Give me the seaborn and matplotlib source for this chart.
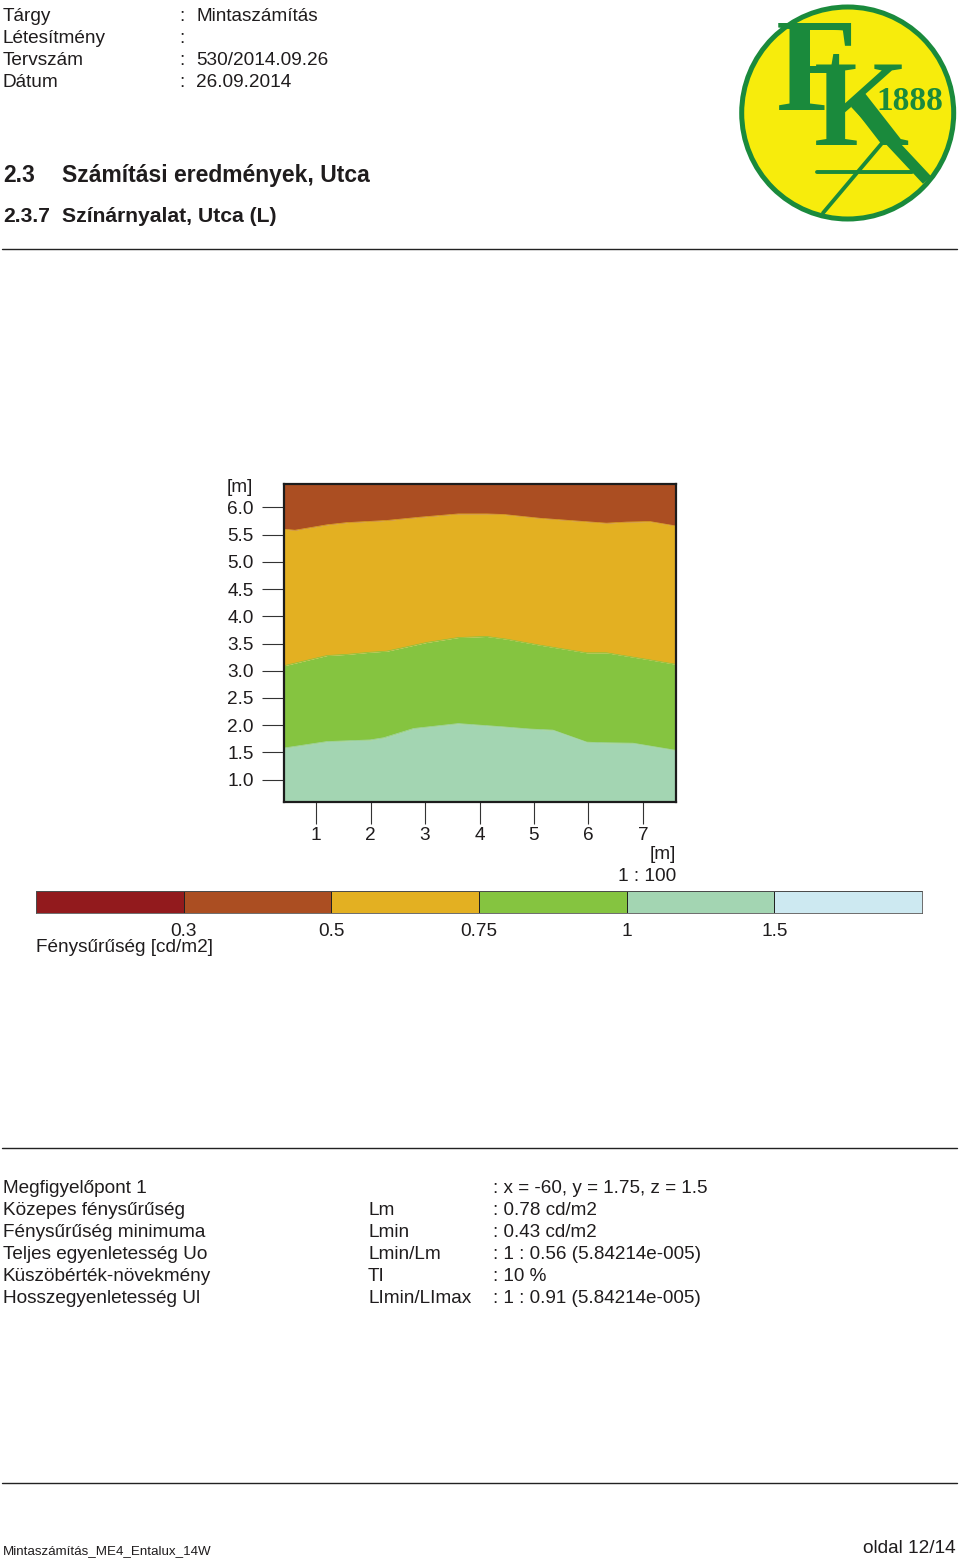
import numpy as np
import matplotlib
matplotlib.use("Agg")
import matplotlib.pyplot as plt
from matplotlib.colors import ListedColormap
from matplotlib.patches import Circle
import seaborn as sns

W, H = 960, 1559
sns.set_theme(style="white")
plt.rcParams["font.family"] = ["Liberation Sans", "DejaVu Sans"]

# ---- data ----
x_light = [0.40, 1.20, 1.99, 2.24, 2.79, 3.61, 4.44, 4.93, 5.35, 5.97, 6.21, 6.82, 7.60]
y_light = [1.58, 1.70, 1.73, 1.77, 1.94, 2.03, 1.97, 1.93, 1.91, 1.69, 1.68, 1.67, 1.54]
x_green = [0.40, 1.20, 1.56, 1.99, 2.30, 3.03, 3.61, 4.13, 4.50, 5.11, 5.97, 6.33, 7.13, 7.60]
y_green = [3.09, 3.28, 3.30, 3.34, 3.36, 3.52, 3.61, 3.63, 3.58, 3.47, 3.33, 3.33, 3.20, 3.12]
x_yellow = [0.40, 0.61, 1.20, 1.56, 2.30, 2.91, 3.61, 4.13, 4.44, 5.11, 6.33, 6.70, 7.13, 7.60]
y_yellow = [5.60, 5.58, 5.68, 5.72, 5.76, 5.82, 5.88, 5.88, 5.87, 5.80, 5.71, 5.73, 5.74, 5.66]
x_ticks = [1, 2, 3, 4, 5, 6, 7]
y_ticks = [1.0, 1.5, 2.0, 2.5, 3.0, 3.5, 4.0, 4.5, 5.0, 5.5, 6.0]
band_colors = ["#921a1d", "#ab4e22", "#e3b022", "#85c440", "#a3d5b2", "#cde9f1"]
band_index = [[0, 1, 2, 3, 4, 5]]
band_labels = ["0.3", "0.5", "0.75", "1", "1.5"]
header_names = ["Tárgy", "Létesítmény", "Tervszám", "Dátum"]
header_values = ["Mintaszámítás", "", "530/2014.09.26", "26.09.2014"]
table_names = ["Megfigyelőpont 1", "Közepes fénysűrűség", "Fénysűrűség minimuma",
               "Teljes egyenletesség Uo", "Küszöbérték-növekmény", "Hosszegyenletesség Ul"]
table_symbols = ["", "Lm", "Lmin", "Lmin/Lm", "TI", "LImin/LImax"]
table_values = [": x = -60, y = 1.75, z = 1.5", ": 0.78 cd/m2", ": 0.43 cd/m2",
                ": 1 : 0.56 (5.84214e-005)", ": 10 %", ": 1 : 0.91 (5.84214e-005)"]
TXT = "#1f1c1d"
FS = 13.7

fig = plt.figure(figsize=(W / 100, H / 100), dpi=100, facecolor="white")


def rect(l, t, r, b):
    return [l / W, 1 - b / H, (r - l) / W, (b - t) / H]


def label(x, y, s, size=FS, **kw):
    kw.setdefault("color", TXT)
    kw.setdefault("va", "baseline")
    fig.text(x / W, 1 - y / H, s, fontsize=size, **kw)


def rule(y, lw=1.0):
    fig.add_artist(plt.Line2D([2 / W, 957 / W], [1 - y / H] * 2, color="#222222", lw=lw))


# ---- contour chart ----
ax = fig.add_axes(rect(283.5, 484.5, 675.5, 802))
ax.set_xlim(0.40, 7.60)
ax.set_ylim(0.59, 6.42)
grid = np.linspace(0.40, 7.60, 400)
b1 = np.interp(grid, x_light, y_light)
b2 = np.interp(grid, x_green, y_green)
b3 = np.interp(grid, x_yellow, y_yellow)
ax.fill_between(grid, 0.59, b1, color=band_colors[4], lw=0)
ax.fill_between(grid, b1, b2, color=band_colors[3], lw=0)
ax.fill_between(grid, b2, b3, color=band_colors[2], lw=0)
ax.fill_between(grid, b3, 6.42, color=band_colors[1], lw=0)
sns.lineplot(x=x_light, y=y_light, ax=ax, color=band_colors[4], lw=0.5, estimator=None, sort=False)
sns.lineplot(x=x_green, y=y_green, ax=ax, color=band_colors[3], lw=0.5, estimator=None, sort=False)
sns.lineplot(x=x_yellow, y=y_yellow, ax=ax, color=band_colors[2], lw=0.5, estimator=None, sort=False)
ax.set_xticks(x_ticks)
ax.set_xticklabels([str(v) for v in x_ticks])
ax.set_yticks(y_ticks)
ax.set_yticklabels([f"{v:.1f}" for v in y_ticks])
ax.tick_params(axis="both", which="major", length=16, width=0.8, color="#333333",
               labelsize=FS, labelcolor=TXT, bottom=True, left=True)
ax.tick_params(axis="x", pad=2)
ax.tick_params(axis="y", pad=5.4)
for s in ax.spines.values():
    s.set_visible(True)
    s.set_color("#1c1c1c")
    s.set_linewidth(1.6)

label(227, 492, "[m]")
label(676, 859, "[m]", ha="right")
label(676, 881, "1 : 100", ha="right")

# ---- colour legend ----
cax = fig.add_axes(rect(36, 891, 922, 913))
sns.heatmap(band_index, cmap=ListedColormap(band_colors), cbar=False, ax=cax,
            linewidths=0.5, linecolor="#222222", square=False, vmin=-0.5, vmax=5.5)
cax.set_xticks([1, 2, 3, 4, 5])
cax.set_xticklabels(band_labels, rotation=0)
cax.set_yticks([])
cax.tick_params(axis="x", length=0, pad=7, labelsize=FS, labelcolor=TXT)
for s in cax.spines.values():
    s.set_visible(True)
    s.set_color("#555555")
    s.set_linewidth(0.6)
label(36, 952, "Fénysűrűség [cd/m2]")

# ---- header ----
for i, (n, v) in enumerate(zip(header_names, header_values)):
    label(3, 21 + 22 * i, n)
    label(179, 21 + 22 * i, ":")
    label(196, 21 + 22 * i, v)
label(3, 182, "2.3", size=16.5, fontweight="bold")
label(62, 182, "Számítási eredmények, Utca", size=16.5, fontweight="bold")
label(3, 222, "2.3.7", size=15.2, fontweight="bold")
label(62, 222, "Színárnyalat, Utca (L)", size=15.2, fontweight="bold")
rule(249)
rule(1148)
rule(1483)

# ---- result table ----
for i, (n, s, v) in enumerate(zip(table_names, table_symbols, table_values)):
    y = 1193 + 22 * i
    label(3, y, n)
    label(368, y, s)
    label(493, y, v, size=13.6)

# ---- footer ----
label(3, 1554, "Mintaszámítás_ME4_Entalux_14W", size=9.65)
label(956, 1553, "oldal 12/14", size=13.7, ha="right")

# ---- logo ----
GREEN = "#1a8a3c"
lax = fig.add_axes(rect(730, 0, 960, 230))
lax.set_xlim(0, 230)
lax.set_ylim(230, 0)
lax.axis("off")
lax.add_patch(Circle((117.7, 113), 106, fc="#f7ec0c", ec=GREEN, lw=3.6))
lax.text(46, 110, "F", family="Liberation Serif", fontsize=96, color=GREEN,
         ha="left", va="baseline", fontweight="bold")
lax.text(84, 145, "K", family="Liberation Serif", fontsize=88, color=GREEN,
         ha="left", va="baseline", fontweight="bold")
lax.text(146, 110, "1888", family="Liberation Serif", fontsize=24, color=GREEN,
         ha="left", va="baseline", fontweight="bold")
lax.plot([125, 197], [103, 180], color=GREEN, lw=8, solid_capstyle="butt")
lax.plot([93, 153], [213, 142], color=GREEN, lw=2.8)
lax.plot([87, 182], [172, 172], color=GREEN, lw=2.8)

fig.savefig("out.png", dpi=100, facecolor="white")
